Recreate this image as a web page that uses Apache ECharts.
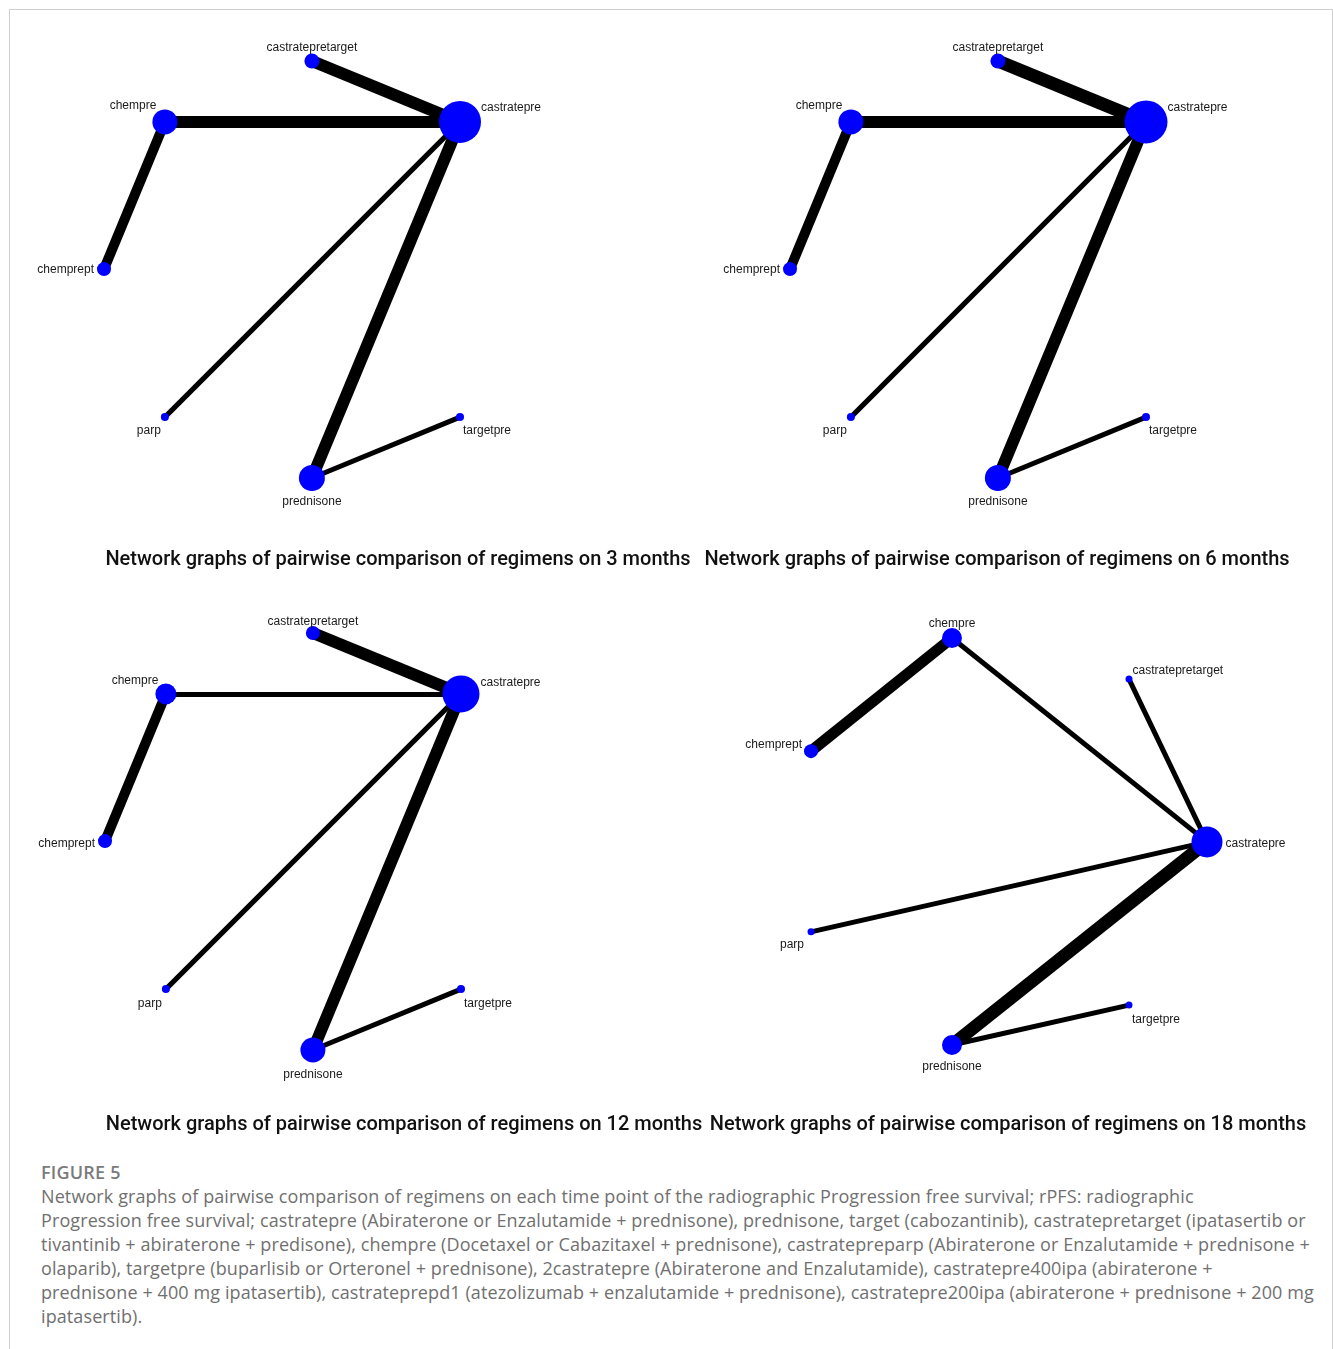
<!DOCTYPE html>
<html>
<head>
<meta charset="utf-8">
<title>Network graphs of pairwise comparison of regimens</title>
<script src="https://cdn.jsdelivr.net/npm/echarts@6/dist/echarts.min.js"></script>
<style>
  html, body { margin: 0; padding: 0; background: #ffffff; }
  #frame {
    position: absolute; left: 9px; top: 9px; width: 1322px; height: 1360px;
    border-left: 1px solid #cfcfcf; border-top: 1px solid #cfcfcf; border-right: 1px solid #cfcfcf;
  }
  #chart { position: absolute; left: 0; top: 0; width: 1333px; height: 1145px; }
  #caption {
    position: absolute; left: 41px; top: 1160px; width: 1285px;
    font-family: "Open Sans", "Noto Sans", sans-serif; font-size: 18px; line-height: 24px;
    letter-spacing: 0.1px; color: #707070; white-space: nowrap;
  }
  #caption .fig { font-weight: 600; color: #7b7b7b; letter-spacing: 0.2px; }
  #caption .op { letter-spacing: -1px; }
</style>
</head>
<body>
<div id="frame"></div>
<div id="chart"></div>
<div id="caption">
  <div class="fig">FIGURE 5</div>
  <div>Network graphs of pairwise comparison of regimens on each time point of the radiographic Progression free survival; rPFS: radiographic</div>
  <div>Progression free survival; castratepre (Abiraterone or Enzalutamide + prednisone), prednisone, target (cabozantinib), castratepretarget (ipatasertib or</div>
  <div>tivantinib + abiraterone + predisone), chempre (Docetaxel or Cabazitaxel + prednisone), castratepreparp (Abiraterone or Enzalutamide + prednisone +</div>
  <div>olaparib), targetpre (buparlisib or Orteronel + prednisone), 2castratepre (Abiraterone and Enzalutamide), castratepre400ipa (abiraterone +</div>
  <div>prednisone + 400 mg ipatasertib), castrateprepd1 (atezolizumab + enzalutamide + prednisone), castratepre200ipa (abiraterone + prednisone + 200 mg</div>
  <div>ipatasertib).</div>
</div>
<script>
// Treatments in the network
const nodeNames = ['castratepretarget', 'castratepre', 'chempre', 'chemprept', 'parp', 'targetpre', 'prednisone'];

// Layout coordinates (unit square) for the 3, 6 and 12 month networks
const layoutSquareX = [0.584, 1.000, 0.171, 0.000, 0.171, 1.000, 0.584];
const layoutSquareY = [1.000, 0.854, 0.854, 0.501, 0.146, 0.146, 0.000];
// Layout coordinates for the 18 month network
const layoutRoundX = [0.803, 1.000, 0.356, 0.000, 0.000, 0.803, 0.356];
const layoutRoundY = [0.899, 0.499, 1.000, 0.722, 0.278, 0.098, 0.000];

// Node weights (drawn as circle diameter) per time point, in nodeNames order
const nodeWeight3m  = [15, 42, 25, 14, 8, 8, 26];
const nodeWeight6m  = [15, 43, 25, 14, 8, 8, 26];
const nodeWeight12m = [14, 37, 21, 14, 8, 8, 25];
const nodeWeight18m = [7, 31, 20, 14, 7, 7, 20];

// Direct comparisons (edges) and their weights (drawn as line width)
const edges3to12 = [
  ['castratepretarget', 'castratepre'],
  ['chempre', 'castratepre'],
  ['chempre', 'chemprept'],
  ['castratepre', 'parp'],
  ['castratepre', 'prednisone'],
  ['prednisone', 'targetpre']
];
const edges18 = [
  ['chempre', 'chemprept'],
  ['chempre', 'castratepre'],
  ['castratepretarget', 'castratepre'],
  ['parp', 'castratepre'],
  ['castratepre', 'prednisone'],
  ['prednisone', 'targetpre']
];
const edgeWeight3m  = [12, 12, 10, 5, 12, 5];
const edgeWeight6m  = [13, 12, 10, 5, 12, 5];
const edgeWeight12m = [12, 5, 10, 5, 12, 5];
const edgeWeight18m = [11, 5, 5, 5, 13, 5];

const panelTitles = [
  'Network graphs of pairwise comparison of regimens on 3 months',
  'Network graphs of pairwise comparison of regimens on 6 months',
  'Network graphs of pairwise comparison of regimens on 12 months',
  'Network graphs of pairwise comparison of regimens on 18 months'
];

// ---- presentation ----
const labelFont = { fontFamily: '"Liberation Sans", Arial, sans-serif', fontSize: 12, color: '#1a1a1a' };

const labelsSquare = {
  castratepretarget: { position: 'top', distance: 2, offset: [0, 2] },
  castratepre: { position: 'right', distance: 0, offset: [0, -14] },
  chempre: { position: 'left', distance: 0, offset: [4, -16] },
  chemprept: { position: 'left', distance: 3, offset: [0, 1] },
  parp: { position: 'bottom', distance: 3, offset: [-16, 1] },
  targetpre: { position: 'bottom', distance: 3, offset: [27, 1] },
  prednisone: { position: 'bottom', distance: 3, offset: [0, 2] }
};
const labelsSquare12 = Object.assign({}, labelsSquare, {
  castratepretarget: { position: 'top', distance: 2, offset: [0, 4] },
  castratepre: { position: 'right', distance: 1, offset: [0, -11] },
  chempre: { position: 'left', distance: 0, offset: [3, -13] },
  chemprept: { position: 'left', distance: 3, offset: [0, 3] },
  parp: { position: 'bottom', distance: 3, offset: [-16, 2] },
  targetpre: { position: 'bottom', distance: 3, offset: [27, 2] },
  prednisone: { position: 'bottom', distance: 4, offset: [0, 2] }
});
const labelsRound = {
  castratepretarget: { position: 'right', distance: 0, offset: [0, -8] },
  castratepre: { position: 'right', distance: 3, offset: [0, 2] },
  chempre: { position: 'top', distance: 2, offset: [0, 4] },
  chemprept: { position: 'left', distance: 2, offset: [0, -6] },
  parp: { position: 'bottom', distance: 2, offset: [-19, 1] },
  targetpre: { position: 'bottom', distance: 3, offset: [27, 2] },
  prednisone: { position: 'bottom', distance: 3, offset: [0, 3] }
};

const panels = [
  { grid: { left: 104, top: 61, width: 356, height: 417 }, xs: layoutSquareX, ys: layoutSquareY,
    sizes: nodeWeight3m, edges: edges3to12, widths: edgeWeight3m, labels: labelsSquare, titleAt: [398, 550] },
  { grid: { left: 790, top: 61, width: 356, height: 417 }, xs: layoutSquareX, ys: layoutSquareY,
    sizes: nodeWeight6m, edges: edges3to12, widths: edgeWeight6m, labels: labelsSquare, titleAt: [997, 550] },
  { grid: { left: 105, top: 633, width: 356, height: 417 }, xs: layoutSquareX, ys: layoutSquareY,
    sizes: nodeWeight12m, edges: edges3to12, widths: edgeWeight12m, labels: labelsSquare12, titleAt: [404, 1115] },
  { grid: { left: 811, top: 638, width: 396, height: 407 }, xs: layoutRoundX, ys: layoutRoundY,
    sizes: nodeWeight18m, edges: edges18, widths: edgeWeight18m, labels: labelsRound, titleAt: [1008, 1115] }
];

const option = {
  animation: false,
  backgroundColor: 'transparent',
  title: panels.map((p, i) => ({
    text: panelTitles[i],
    left: p.titleAt[0], top: p.titleAt[1], textAlign: 'center', padding: 0,
    textStyle: { fontFamily: 'Roboto, "Open Sans", sans-serif', fontWeight: 500, fontSize: 20, color: '#111111' }
  })),
  grid: panels.map(p => Object.assign({ containLabel: false }, p.grid)),
  xAxis: panels.map((p, i) => ({ type: 'value', gridIndex: i, min: 0, max: 1, show: false })),
  yAxis: panels.map((p, i) => ({ type: 'value', gridIndex: i, min: 0, max: 1, show: false })),
  series: panels.map((p, i) => ({
    type: 'graph',
    coordinateSystem: 'cartesian2d',
    xAxisIndex: i, yAxisIndex: i,
    silent: true,
    symbol: 'circle',
    itemStyle: { color: '#0000ff' },
    lineStyle: { color: '#000000', opacity: 1, curveness: 0 },
    label: Object.assign({ show: true }, labelFont),
    emphasis: { disabled: true },
    data: nodeNames.map((name, k) => ({
      name: name,
      value: [p.xs[k], p.ys[k]],
      symbolSize: p.sizes[k],
      label: Object.assign({ show: true }, labelFont, p.labels[name])
    })),
    links: p.edges.map((e, k) => ({
      source: e[0], target: e[1],
      lineStyle: { width: p.widths[k] }
    }))
  }))
};

const chart = echarts.init(document.getElementById('chart'), null, { renderer: 'canvas' });
chart.setOption(option);
</script>
</body>
</html>
